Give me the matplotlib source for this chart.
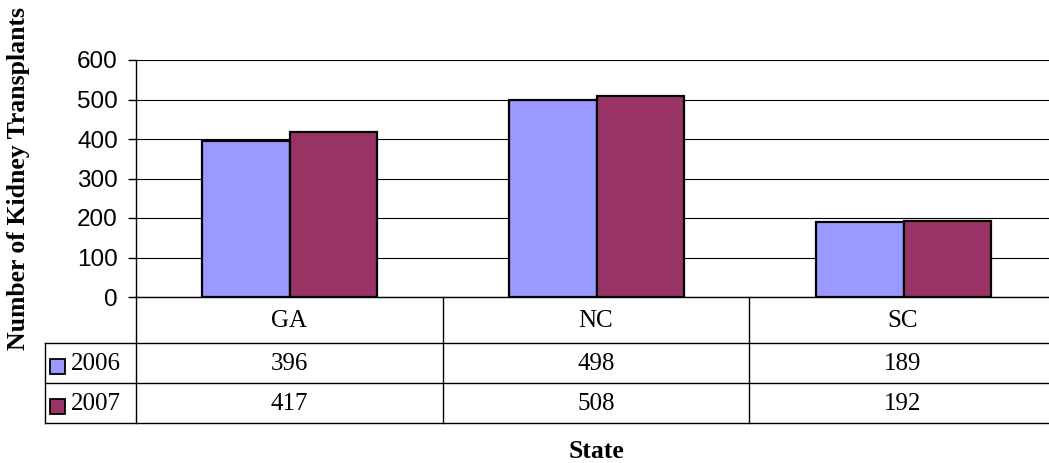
import matplotlib
matplotlib.use("Agg")
import matplotlib.pyplot as plt
from matplotlib.lines import Line2D
from matplotlib.patches import Rectangle
import numpy as np

states = ["GA", "NC", "SC"]
series_names = ["2006", "2007"]
values_2006 = [396, 498, 189]
values_2007 = [417, 508, 192]
series_colors = ["#9999FF", "#993366"]
y_ticks = [0, 100, 200, 300, 400, 500, 600]

W, H = 1049, 463
fig = plt.figure(figsize=(W / 100, H / 100), dpi=100)

# plot area in pixel coordinates (the right end runs past the canvas edge)
px_left, px_right, px_top, px_bottom = 136, 1057, 60, 297
ax = fig.add_axes([px_left / W, 1 - px_bottom / H,
                   (px_right - px_left) / W, (px_bottom - px_top) / H])

x = np.arange(len(states))
bar_w = 1 / 3.5  # gap width of 150 %
for i, (vals, col) in enumerate(zip([values_2006, values_2007], series_colors)):
    offset = (i - 0.5) * bar_w
    ax.bar(x + offset, vals, width=bar_w, color=col, edgecolor="black",
           linewidth=1.6, zorder=3)

ax.set_xlim(-0.5, len(states) - 0.5)
ax.set_ylim(0, 600)
ax.set_yticks(y_ticks)
ax.set_yticklabels([str(t) for t in y_ticks], fontfamily="Liberation Sans",
                   fontsize=17.5)
ax.set_xticks([])
ax.yaxis.grid(True, color="black", linewidth=0.8, zorder=0)
ax.set_axisbelow(True)
for s in ["top", "right"]:
    ax.spines[s].set_visible(False)
ax.spines["left"].set_linewidth(1.0)
ax.spines["bottom"].set_linewidth(1.0)
ax.tick_params(axis="y", direction="out", length=6, width=1.0, pad=7)

# overlay for the data table and titles, in pixel coordinates
ov = fig.add_axes([0, 0, 1, 1])
ov.set_xlim(0, W)
ov.set_ylim(H, 0)
ov.axis("off")
ov.patch.set_alpha(0)

serif = "Liberation Serif"
row_tops = [297, 343, 383, 423]
col_edges = [136, 443, 749, 1056]
lk = dict(color="black", linewidth=1.0)

# horizontal rules
for yy in row_tops[1:]:
    ov.add_line(Line2D([45, W], [yy, yy], **lk))
# vertical rules
for xx in col_edges[:3]:
    ov.add_line(Line2D([xx, xx], [297, 423], **lk))
ov.add_line(Line2D([45, 45], [343, 423], **lk))

centers = [(col_edges[j] + col_edges[j + 1]) / 2 for j in range(3)]
for j, st in enumerate(states):
    ov.text(centers[j], 321, st, ha="center", va="center",
            fontfamily=serif, fontsize=18)

for r, (name, vals, col) in enumerate(zip(series_names,
                                           [values_2006, values_2007],
                                           series_colors)):
    yc = (row_tops[r + 1] + row_tops[r + 2]) / 2
    ov.add_patch(Rectangle((50, yc - 7 + 3), 15, 15, facecolor=col,
                           edgecolor="black", linewidth=1.3))
    ov.text(71, yc + 1, name, ha="left", va="center",
            fontfamily=serif, fontsize=18)
    for j, v in enumerate(vals):
        ov.text(centers[j], yc + 1, str(v), ha="center", va="center",
                fontfamily=serif, fontsize=18)

ov.text(19, 178, "Number of Kidney Transplants", rotation=90,
        ha="center", va="center", fontfamily=serif, fontweight="bold",
        fontsize=18.5)
ov.text(596, 451, "State", ha="center", va="center",
        fontfamily=serif, fontweight="bold", fontsize=18.5)

fig.savefig("out.png", dpi=100)
